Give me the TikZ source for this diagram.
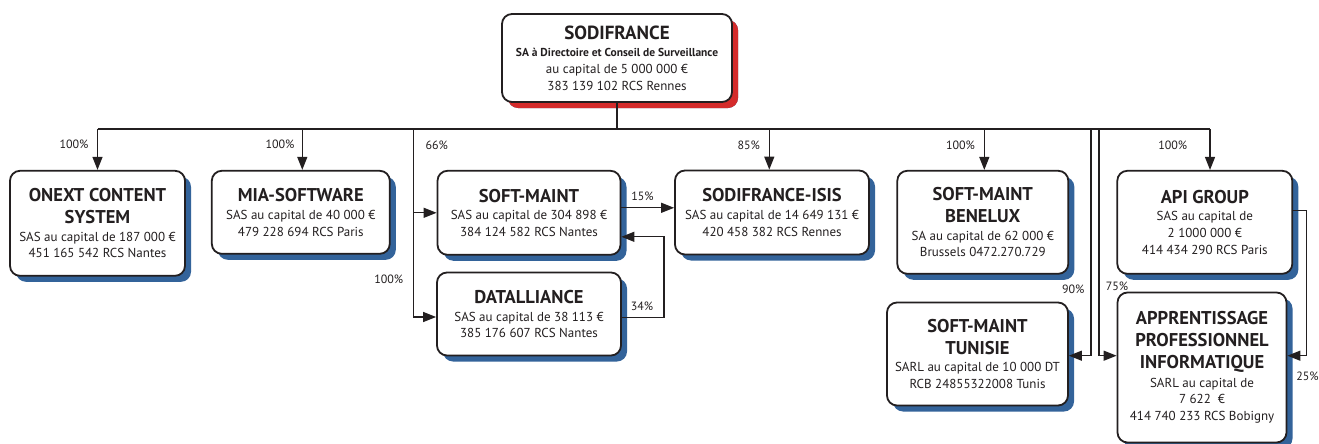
\documentclass[tikz,border=0pt]{standalone}
\usepackage{fontspec}
\setmainfont{PT Sans}
\usetikzlibrary{arrows.meta,shadows}
\definecolor{shblue}{HTML}{33639A}
\definecolor{shred}{HTML}{D42B2B}
\definecolor{ink}{HTML}{231F20}
\newcommand{\ttl}{\fontsize{18.5}{16.7}\selectfont\bfseries}
\tikzset{
  company/.style={draw=ink, line width=1.8pt, rounded corners=10pt, fill=white,
    align=center, inner sep=0pt, text=ink,
    font=\fontsize{13}{16.7}\selectfont,
    drop shadow={shadow xshift=6pt, shadow yshift=-6pt, fill=shblue, opacity=1}},
  headco/.style={company,
    drop shadow={shadow xshift=6pt, shadow yshift=-6pt, fill=shred, opacity=1}},
  wire/.style={draw=ink, line width=1.3pt},
  arr/.style={wire, -{Triangle[length=13pt,width=10pt]}},
  pct/.style={inner sep=0pt, text=ink, font=\fontsize{12}{14}\selectfont},
}
\begin{document}
\begin{tikzpicture}[x=1pt,y=-1pt]
\useasboundingbox (0,0) rectangle (1319,444);

% companies
\node[headco, minimum width=230pt, minimum height=88pt] (sodi) at (617,58)
  {{\fontsize{19}{16.7}\selectfont\bfseries SODIFRANCE}\\[1pt]{\fontsize{11.5}{16.7}\selectfont\bfseries SA à Directoire et Conseil de Surveillance}\\au capital de 5 000 000 €\\383 139 102 RCS Rennes};
\node[company, minimum width=175pt, minimum height=105pt] (onext) at (97.5,223.3)
  {{\ttl ONEXT CONTENT}\\[5pt]{\ttl SYSTEM}\\[1pt]SAS au capital de 187 000 €\\451 165 542 RCS Nantes};
\node[company, minimum width=178pt, minimum height=83pt] (mia) at (300.8,212.3)
  {{\ttl MIA-SOFTWARE}\\[1pt]SAS au capital de 40 000 €\\479 228 694 RCS Paris};
\node[company, minimum width=183pt, minimum height=84pt] (softm) at (529,212.8)
  {{\ttl SOFT-MAINT}\\[1pt]SAS au capital de 304 898 €\\384 124 582 RCS Nantes};
\node[company, minimum width=184pt, minimum height=83pt] (data) at (529,314)
  {{\ttl DATALLIANCE}\\[1pt]SAS au capital de 38 113 €\\385 176 607 RCS Nantes};
\node[company, minimum width=194pt, minimum height=84pt] (isis) at (772,212.5)
  {{\ttl SODIFRANCE-ISIS}\\[1pt]SAS au capital de 14 649 131 €\\420 458 382 RCS Rennes};
\node[company, minimum width=171pt, minimum height=103pt] (benelux) at (982.8,222.3)
  {{\ttl SOFT-MAINT}\\[5pt]{\ttl BENELUX}\\[1pt]SA au capital de 62 000 €\\Brussels 0472.270.729};
\node[company, minimum width=175pt, minimum height=103pt] (api) at (1204.8,222.3)
  {{\ttl API GROUP}\\[1pt]SAS au capital de\\2 1000 000 €\\414 434 290 RCS Paris};
\node[company, minimum width=181pt, minimum height=103pt] (tunisie) at (977.5,354)
  {{\ttl SOFT-MAINT}\\[5pt]{\ttl TUNISIE}\\[1pt]SARL au capital de 10 000 DT\\RCB 24855322008 Tunis};
\node[company, minimum width=169pt, minimum height=150pt] (appr) at (1202,367.5)
  {{\ttl APPRENTISSAGE}\\[5pt]{\ttl PROFESSIONNEL}\\[5pt]{\ttl INFORMATIQUE}\\[2pt]SARL au capital de\\7 622~ €\\414 740 233 RCS Bobigny};

% bus
\coordinate (busL) at (97.5,129);
\coordinate (busR) at (1210,129);
\coordinate (tapMia) at (302.3,129);
\coordinate (tapSm) at (413.3,129);
\coordinate (tapIsis) at (769.3,129);
\coordinate (tapBen) at (984.3,129);
\coordinate (tapTun) at (1091,129);
\coordinate (tapAppr) at (1099,129);

\draw[wire] (sodi.south) -- (sodi.south |- busL);
\draw[wire] (busL) -- (busR);
\draw[arr] (busL) -- (onext.north);
\draw[arr] (tapMia) -- (tapMia |- mia.north);
\draw[wire] (tapSm) -- (tapSm |- softm.west);
\draw[arr] (tapSm |- softm.west) -- (softm.west);
\draw[arr] (tapSm) |- ([yshift=-3pt]data.west);
\draw[arr] ([yshift=5pt]softm.east) -- ([yshift=5pt]softm.east -| isis.west);
\draw[arr] ([yshift=-3.5pt]data.east) -- ++(42pt,0) |- ([yshift=-24pt]softm.east);
\draw[arr] (tapIsis) -- (tapIsis |- isis.north);
\draw[arr] (tapBen) -- (tapBen |- benelux.north);
\draw[arr] (busR) -- (busR |- api.north);
\draw[arr] (tapTun) |- ([yshift=-1.7pt]tunisie.east);
\draw[arr] (tapAppr) |- ([yshift=-1.7pt]tunisie.east -| appr.west);
\draw[arr] ([yshift=12pt]api.east) -- ++(13pt,0) |- ([yshift=-1.7pt]tunisie.east -| appr.east);

% percentages
\node[pct] (pOnext) at (74,144.3) {100\%};
\node[pct] (pMia) at (280,144.3) {100\%};
\node[pct] (pSm) at (436.7,145.7) {66\%};
\node[pct] (pData) at (388.7,279) {100\%};
\node[pct] (pIsis) at (748.8,145) {85\%};
\node[pct] (pSmIsis) at (642.5,196) {15\%};
\node[pct] (pDataSm) at (642,306.7) {34\%};
\node[pct] (pBen) at (960.5,145) {100\%};
\node[pct] (pApi) at (1172.8,145) {100\%};
\node[pct] (pTun) at (1073.3,289) {90\%};
\node[pct] (pAppr) at (1117,286) {75\%};
\node[pct] (pApiAppr) at (1307.5,376.7) {25\%};
\end{tikzpicture}
\end{document}
